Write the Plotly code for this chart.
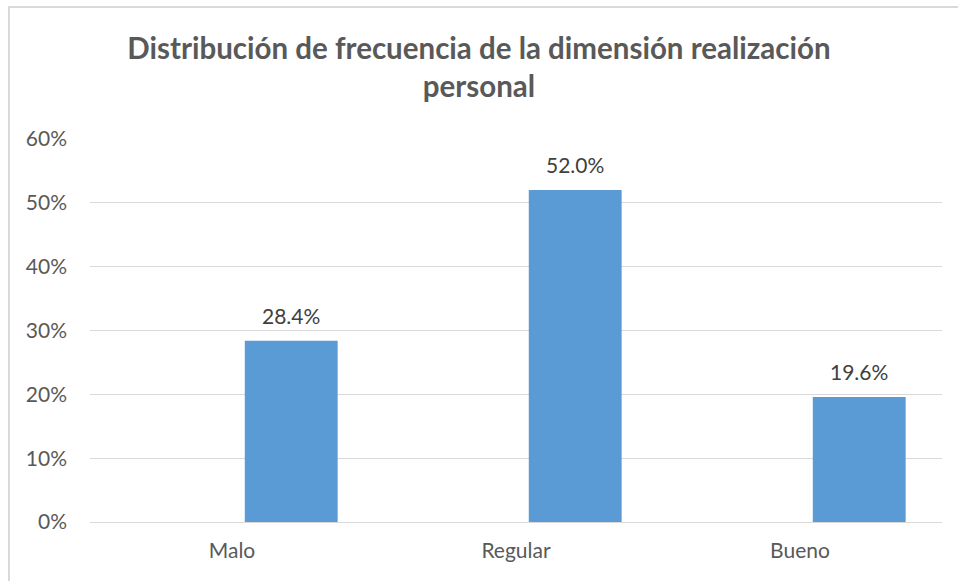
import plotly.graph_objects as go

categories = ["Malo", "Regular", "Bueno"]
values = [0.284, 0.520, 0.196]
y_ticks = [0, 0.1, 0.2, 0.3, 0.4, 0.5, 0.6]
y_tick_text = ["0%", "10%", "20%", "30%", "40%", "50%", "60%"]
title_text = "Distribución de frecuencia de la dimensión realización<br>personal"

W, H = 958, 581
ML, MR, MT, MB = 90, 16, 139, 59
PW, PH = W - ML - MR, H - MT - MB

BAR_W = 0.327
BAR_OFF = 0.045

TEXT = "#595959"
FONT = "Lato"
FS = 21

fig = go.Figure()
fig.add_trace(go.Bar(
    x=list(range(len(categories))),
    y=values,
    width=BAR_W,
    offset=BAR_OFF,
    marker=dict(color="#5b9bd5", line=dict(width=0)),
    hoverinfo="skip",
))

for i, v in enumerate(values):
    fig.add_annotation(
        x=i + BAR_OFF + BAR_W / 2, y=v,
        text=f"{v * 100:.1f}%",
        showarrow=False, yanchor="bottom", yshift=11,
        font=dict(family=FONT, size=FS, color="#404040"),
    )

# thin gray frame around the chart area
px = lambda p: (p - ML) / PW
py = lambda p: (H - MB - p) / PH
fig.add_shape(type="rect", xref="paper", yref="paper",
              x0=px(9), x1=px(970), y0=py(595), y1=py(7),
              line=dict(color="#d9d9d9", width=2), layer="below")

fig.update_layout(
    width=W, height=H,
    margin=dict(l=ML, r=MR, t=MT, b=MB),
    paper_bgcolor="white", plot_bgcolor="white",
    showlegend=False,
    title=dict(text=title_text, x=0.5, xanchor="center", y=1 - 59 / H,
               yanchor="top",
               font=dict(family=FONT, size=29.5, color=TEXT, weight="bold")),
    xaxis=dict(
        range=[-0.5, len(categories) - 0.5],
        tickmode="array", tickvals=list(range(len(categories))),
        ticktext=categories,
        showgrid=False, zeroline=False, showline=False, ticks="",
        tickfont=dict(family=FONT, size=FS, color=TEXT),
        ticklabelstandoff=14,
    ),
    yaxis=dict(
        range=[0, 0.6],
        tickmode="array", tickvals=y_ticks, ticktext=y_tick_text,
        showgrid=True, gridcolor="#d9d9d9", gridwidth=1,
        zeroline=True, zerolinecolor="#d9d9d9", zerolinewidth=1,
        showline=False, ticks="",
        tickfont=dict(family=FONT, size=FS, color=TEXT),
        ticklabelstandoff=22,
    ),
)

fig.write_html("out.html")
